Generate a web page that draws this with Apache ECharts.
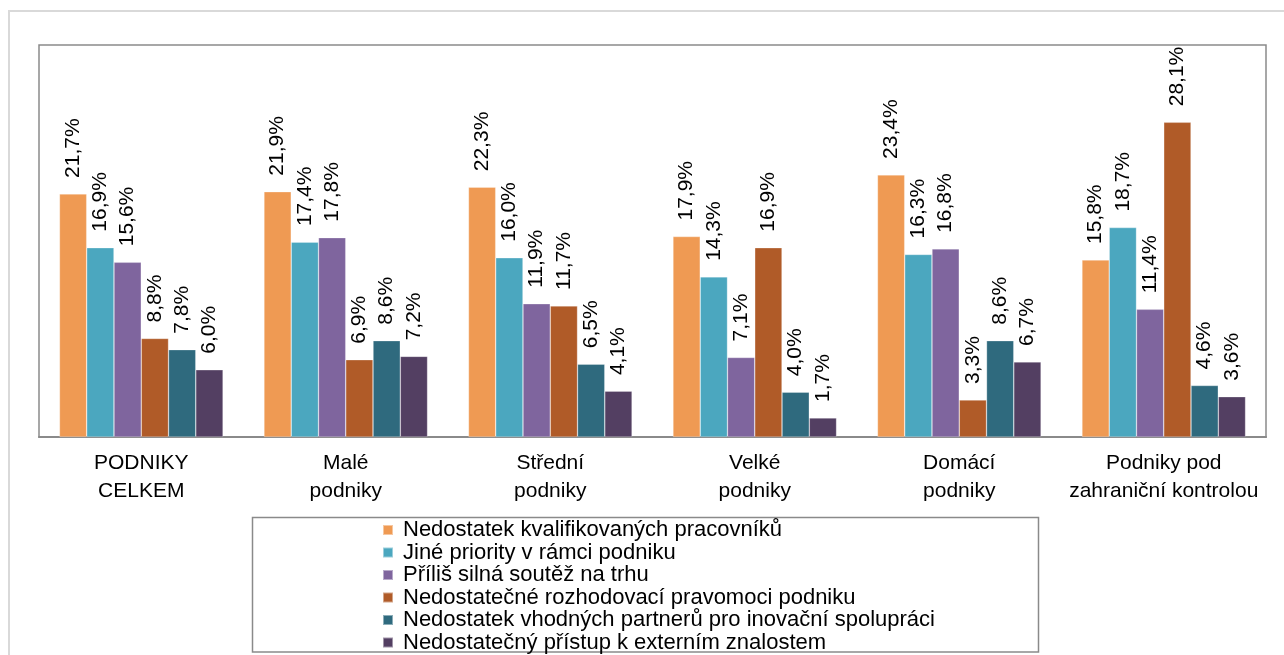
<!DOCTYPE html>
<html>
<head>
<meta charset="utf-8">
<script src="https://cdn.jsdelivr.net/npm/echarts@6/dist/echarts.min.js"></script>
<style>
html,body{margin:0;padding:0;background:#fff;}
#chart{width:1284px;height:655px;}
</style>
</head>
<body>
<div id="chart"></div>
<script>
const categories = ["PODNIKY\nCELKEM", "Malé\npodniky", "Střední\npodniky", "Velké\npodniky", "Domácí\npodniky", "Podniky pod\nzahraniční kontrolou"];
const seriesNames = [
  "Nedostatek kvalifikovaných pracovníků",
  "Jiné priority v rámci podniku",
  "Příliš silná soutěž na trhu",
  "Nedostatečné rozhodovací pravomoci podniku",
  "Nedostatek vhodných partnerů pro inovační spolupráci",
  "Nedostatečný přístup k externím znalostem"
];
const kvalifikovani = [21.7, 21.9, 22.3, 17.9, 23.4, 15.8];
const jinePriority = [16.9, 17.4, 16.0, 14.3, 16.3, 18.7];
const soutez = [15.6, 17.8, 11.9, 7.1, 16.8, 11.4];
const pravomoci = [8.8, 6.9, 11.7, 16.9, 3.3, 28.1];
const partneri = [7.8, 8.6, 6.5, 4.0, 8.6, 4.6];
const znalosti = [6.0, 7.2, 4.1, 1.7, 6.7, 3.6];
const seriesData = [kvalifikovani, jinePriority, soutez, pravomoci, partneri, znalosti];
const colors = ["#EF9A53", "#4BA7BF", "#7F659E", "#B05B28", "#2F6A7E", "#533F62"];

const FONT = "'Liberation Sans', Arial, sans-serif";
const chart = echarts.init(document.getElementById('chart'), null, {renderer: 'canvas'});

const series = seriesNames.map((name, i) => ({
  name: name,
  type: 'bar',
  data: seriesData[i],
  barGap: '0%',
  barCategoryGap: '20%',
  itemStyle: {color: colors[i], borderColor: 'rgba(255,255,255,0.45)', borderWidth: 0.6},
  label: {
    show: true,
    position: 'top',
    rotate: 90,
    align: 'left',
    verticalAlign: 'middle',
    distance: 16,
    fontFamily: FONT,
    fontSize: 21,
    color: '#000',
    formatter: p => p.value.toFixed(1).replace('.', ',') + '%'
  }
}));

chart.setOption({
  animation: false,
  backgroundColor: '#fff',
  color: colors,
  grid: {
    left: 39, top: 45, width: 1227, bottom: 218,
    show: true, borderColor: '#8a8a8a', borderWidth: 1.5, containLabel: false
  },
  xAxis: {
    type: 'category',
    data: categories,
    axisTick: {show: false},
    axisLine: {show: true, lineStyle: {color: '#8a8a8a', width: 2}},
    axisLabel: {fontFamily: FONT, fontSize: 21, color: '#000', lineHeight: 28, margin: 12, interval: 0}
  },
  yAxis: {
    type: 'value', min: 0, max: 35,
    show: false,
    splitLine: {show: false}
  },
  legend: {
    orient: 'vertical',
    left: 377,
    top: 514,
    height: 300,
    itemWidth: 10,
    itemHeight: 10,
    itemGap: 0.5,
    icon: 'rect',
    textStyle: {fontFamily: FONT, fontSize: 22, color: '#000', lineHeight: 20, padding: [0, 0, 0, 5]},
    data: seriesNames
  },
  graphic: [
    {type: 'rect', shape: {x: 9, y: 11, width: 1300, height: 700}, style: {fill: 'none', stroke: '#d9d9d9', lineWidth: 2}, silent: true},
    {type: 'rect', shape: {x: 252.5, y: 517.5, width: 786, height: 134.5}, style: {fill: 'none', stroke: '#8a8a8a', lineWidth: 1.5}, silent: true}
  ],
  series: series
});
</script>
</body>
</html>
